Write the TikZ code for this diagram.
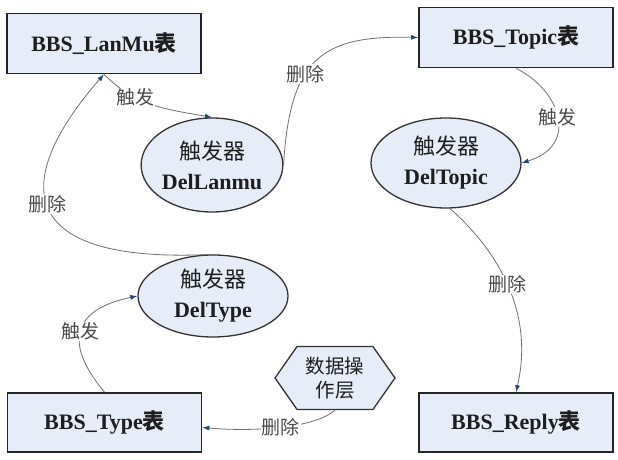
\documentclass[tikz,border=0pt]{standalone}
\usepackage{fontspec}
\setmainfont{Liberation Serif}
\newfontfamily\cjk{Noto Sans CJK SC}
\usetikzlibrary{shapes.geometric,shapes.symbols,arrows.meta}
\definecolor{boxfill}{HTML}{E6EDF8}
\definecolor{tipc}{HTML}{24467F}
\definecolor{linec}{HTML}{707070}
\definecolor{txt}{HTML}{1E1E1E}
\definecolor{lbl}{HTML}{4A4A4A}
\begin{document}
\begin{tikzpicture}[x=1pt,y=1pt,
 tbl/.style={draw=black!85,line width=1.7pt,fill=boxfill,minimum width=194pt,minimum height=60pt,font=\fontsize{22}{24}\selectfont\bfseries,text=txt,inner sep=0pt},
 trig/.style={ellipse,draw=black!80,line width=1.3pt,fill=boxfill,font=\fontsize{22}{30}\selectfont\bfseries,text=txt,align=center,inner sep=0pt},
 hexa/.style={signal,signal to=west and east,signal pointer angle=110,draw=black!80,line width=1.3pt,fill=boxfill,minimum width=120pt,minimum height=63pt,font=\cjk\fontsize{19.5}{24}\selectfont,text=txt,align=center,inner sep=0pt},
 conn/.style={draw=linec,line width=0.8pt,-{Latex[length=7pt,width=5pt,color=tipc]}},
 lab/.style={fill=white,font=\cjk\fontsize{19}{21}\selectfont,text=lbl,inner sep=1pt}
]
\fill[white] (0,0) rectangle (618,460);
\useasboundingbox (0,0) rectangle (618,460);

\node[tbl] (lanmu) at (104,416.5) {BBS\_LanMu{\cjk 表}};
\node[tbl] (topic) at (516,422.5) {BBS\_Topic{\cjk 表}};
\node[tbl,minimum height=59pt] (type) at (104.5,37.5) {BBS\_Type{\cjk 表}};
\node[tbl,minimum height=59pt] (reply) at (516,37.5) {BBS\_Reply{\cjk 表}};

\node[trig,minimum width=134pt,minimum height=94pt] (dl) at (212,295) {{\cjk\mdseries 触发器}\\DelLanmu};
\node[trig,minimum width=150pt,minimum height=90pt] (dt) at (446,297) {{\cjk\mdseries 触发器}\\DelTopic};
\node[trig,minimum width=150pt,minimum height=82pt] (dty) at (213,164) {{\cjk\mdseries 触发器}\\DelType};
\node[hexa] (hex) at (335,82) {数据操\\作层};

% LanMu -> DelLanmu
\draw[conn] (lanmu.south) to[out=-45,in=170] node[lab,pos=0.32]{触发} (dl.north);
% DelLanmu -> Topic
\draw[conn] (dl.east) .. controls (290,400) and (320,425) .. node[lab,pos=0.4]{删除} (topic.west);
% Topic -> DelTopic
\draw[conn] (topic.south) .. controls (560,370) and (580,315) .. node[lab,pos=0.5]{触发} (dt.east);
% DelTopic -> Reply
\draw[conn] (dt.-85) .. controls (495,212) and (535,150) .. node[lab,pos=0.5]{删除} (reply.north);
% Type -> DelType
\draw[conn] (type.north) .. controls (65,115) and (70,150) .. node[lab,pos=0.5]{触发} (dty.west);
% Hex -> Type
\draw[conn] (hex.south) .. controls (315,32) and (255,28) .. node[lab,pos=0.5]{删除} ([yshift=-5pt]type.east);
% DelType -> LanMu
\draw[conn] (dty.north) .. controls (0,195) and (20,290) .. node[lab,pos=0.5]{删除} (lanmu.south);
\end{tikzpicture}
\end{document}
